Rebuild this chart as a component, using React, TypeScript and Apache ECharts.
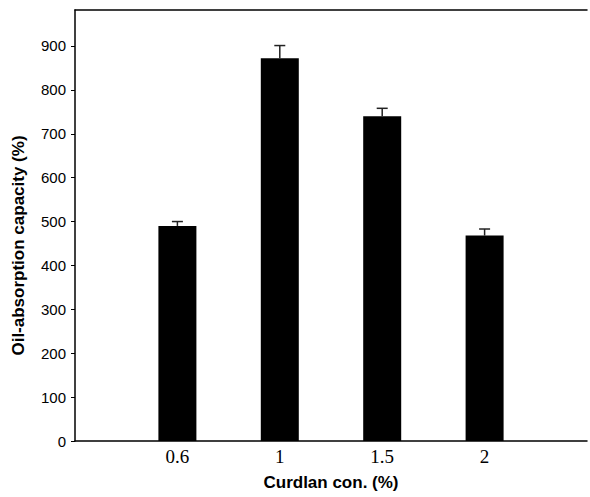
import React, { useEffect, useRef } from "react";
import * as echarts from "echarts";

const categories = ["0.6", "1", "1.5", "2"];
const means = [490, 872, 740, 468];
const errors = [10, 29, 18, 15];
const yTicks = [0, 100, 200, 300, 400, 500, 600, 700, 800, 900];
const yMax = 982;

export default function App() {
  const ref = useRef<HTMLDivElement>(null);
  useEffect(() => {
    if (!ref.current) return;
    const chart = echarts.init(ref.current, null, { renderer: "svg" });
    const axisData = ["", ...categories, ""];
    const barData = ["-", ...means, "-"];
    const errData = means.map((m, i) => [i + 1, m, errors[i]]);
    chart.setOption({
      animation: false,
      backgroundColor: "#ffffff",
      grid: { left: 75, right: 0, top: 10, bottom: 56, containLabel: false },
      xAxis: [
        {
          type: "category",
          data: axisData,
          boundaryGap: false,
          name: "Curdlan con. (%)",
          nameLocation: "middle",
          nameGap: 33,
          nameTextStyle: { fontFamily: "Liberation Sans, Arial", fontWeight: "bold", fontSize: 17, color: "#000" },
          axisLine: { show: true, lineStyle: { color: "#000", width: 1.5 } },
          axisTick: { show: false },
          axisLabel: { fontFamily: "Liberation Serif, Times New Roman, serif", fontSize: 19, color: "#000", margin: 6, interval: 0 },
          splitLine: { show: false },
        },
        {
          type: "value",
          position: "top",
          min: 0,
          max: 1,
          axisLine: { show: true, onZero: false, lineStyle: { color: "#000", width: 1.5 } },
          axisTick: { show: false },
          axisLabel: { show: false },
          splitLine: { show: false },
        },
      ],
      yAxis: {
        type: "value",
        min: 0,
        max: yMax,
        interval: 100,
        name: "Oil-absorption capacity (%)",
        nameLocation: "middle",
        nameGap: 48,
        nameTextStyle: { fontFamily: "Liberation Sans, Arial", fontWeight: "bold", fontSize: 17, color: "#000", padding: [0, 40, 0, 0] },
        axisLine: { show: true, lineStyle: { color: "#000", width: 1.5 } },
        axisTick: { show: true, length: 4, lineStyle: { color: "#000", width: 1 }, customValues: yTicks },
        axisLabel: { fontFamily: "Liberation Sans, Arial", fontSize: 15, color: "#000", margin: 9, customValues: yTicks },
        splitLine: { show: false },
      },
      series: [
        {
          type: "bar",
          data: barData,
          barWidth: 38,
          itemStyle: { color: "#000" },
        },
        {
          type: "custom",
          data: errData,
          z: 5,
          renderItem: (params: any, api: any) => {
            const x = api.value(0);
            const m = api.value(1);
            const e = api.value(2);
            const p0 = api.coord([x, m]);
            const p1 = api.coord([x, m + e]);
            const hw = 5.5;
            const style = { stroke: "#222", lineWidth: 1.5 };
            return {
              type: "group",
              children: [
                { type: "line", shape: { x1: p0[0], y1: p0[1], x2: p1[0], y2: p1[1] }, style },
                { type: "line", shape: { x1: p1[0] - hw, y1: p1[1], x2: p1[0] + hw, y2: p1[1] }, style },
              ],
            };
          },
        },
      ],
    });
    return () => chart.dispose();
  }, []);
  return (
    <div
      ref={ref}
      style={{ position: "fixed", left: 0, top: 0, width: 590, height: 497 }}
    />
  );
}
